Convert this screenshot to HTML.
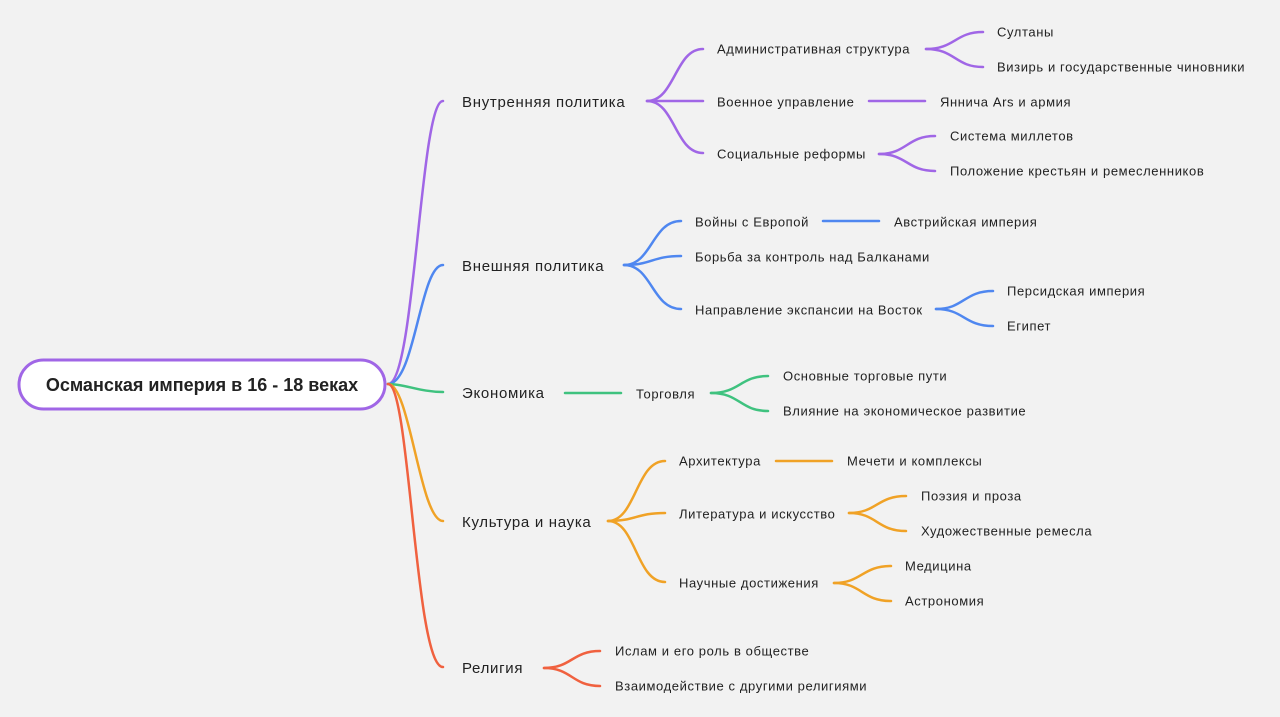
<!DOCTYPE html>
<html><head><meta charset="utf-8"><style>
html,body{margin:0;padding:0;background:#f2f2f2;}
svg{display:block}
text{font-family:"Liberation Sans","Noto Sans CJK SC",sans-serif;fill:#222;dominant-baseline:middle}
.l1{font-size:15px;letter-spacing:0.7px}
.l2{font-size:13px;letter-spacing:0.6px}
path{fill:none;stroke-width:2.5;stroke-linecap:round}
.p{stroke:#a066e6}.b{stroke:#4f87f0}.g{stroke:#3fc27f}.o{stroke:#f0a226}.r{stroke:#f0613f}
</style></head><body>
<svg width="1280" height="717" viewBox="0 0 1280 717">
<g transform="translate(0,1)">
<path class="p" d="M388,383 C415,383 420,100 443,100"/>
<path class="b" d="M388,383 C415,383 420,264 443,264"/>
<path class="g" d="M388,383 C405,383 420,391 443,391"/>
<path class="o" d="M388,383 C410,383 420,520 443,520"/>
<path class="r" d="M388,383 C410,383 415,666 443,666"/>
</g>
<rect x="19" y="360" width="366" height="49" rx="24.5" fill="#fff" stroke="#a066e6" stroke-width="3"/>
<text x="202" y="386" text-anchor="middle" style="font-size:18px;font-weight:600">Османская империя в 16 - 18 веках</text>

<!-- purple -->
<text class="l1" x="462" y="103">Внутренняя политика</text>
<path class="p" d="M647,101 C675,101 675,49 703,49"/>
<path class="p" d="M647,101 L703,101"/>
<path class="p" d="M647,101 C675,101 675,153 703,153"/>
<text class="l2" x="717" y="50">Административная структура</text>
<text class="l2" x="717" y="103">Военное управление</text>
<text class="l2" x="717" y="155">Социальные реформы</text>
<path class="p" d="M926,49 C955,49 955,32 983,32"/>
<path class="p" d="M926,49 C955,49 955,67 983,67"/>
<text class="l2" x="997" y="33">Султаны</text>
<text class="l2" x="997" y="68">Визирь и государственные чиновники</text>
<path class="p" d="M869,101 L925,101"/>
<text class="l2" x="940" y="103">Яннича Ars и армия</text>
<path class="p" d="M879,154 C907,154 907,136 935,136"/>
<path class="p" d="M879,154 C907,154 907,171 935,171"/>
<text class="l2" x="950" y="137">Система миллетов</text>
<text class="l2" x="950" y="172">Положение крестьян и ремесленников</text>

<!-- blue -->
<text class="l1" x="462" y="267">Внешняя политика</text>
<path class="b" d="M624,265 C652,265 652,221 681,221"/>
<path class="b" d="M624,265 C652,265 652,256 681,256"/>
<path class="b" d="M624,265 C652,265 652,309 681,309"/>
<text class="l2" x="695" y="223">Войны с Европой</text>
<text class="l2" x="695" y="258">Борьба за контроль над Балканами</text>
<text class="l2" x="695" y="311">Направление экспансии на Восток</text>
<path class="b" d="M823,221 L879,221"/>
<text class="l2" x="894" y="223">Австрийская империя</text>
<path class="b" d="M936,309 C964,309 964,291 993,291"/>
<path class="b" d="M936,309 C964,309 964,326 993,326"/>
<text class="l2" x="1007" y="292">Персидская империя</text>
<text class="l2" x="1007" y="327">Египет</text>

<!-- green -->
<text class="l1" x="462" y="394">Экономика</text>
<path class="g" d="M565,393 L621,393"/>
<text class="l2" x="636" y="395">Торговля</text>
<path class="g" d="M711,393 C740,393 740,376 768,376"/>
<path class="g" d="M711,393 C740,393 740,411 768,411"/>
<text class="l2" x="783" y="377">Основные торговые пути</text>
<text class="l2" x="783" y="412">Влияние на экономическое развитие</text>

<!-- orange -->
<text class="l1" x="462" y="523">Культура и наука</text>
<path class="o" d="M608,521 C636,521 636,461 665,461"/>
<path class="o" d="M608,521 C636,521 636,513 665,513"/>
<path class="o" d="M608,521 C636,521 636,582 665,582"/>
<text class="l2" x="679" y="462">Архитектура</text>
<text class="l2" x="679" y="515">Литература и искусство</text>
<text class="l2" x="679" y="584">Научные достижения</text>
<path class="o" d="M776,461 L832,461"/>
<text class="l2" x="847" y="462">Мечети и комплексы</text>
<path class="o" d="M849,513 C877,513 877,496 906,496"/>
<path class="o" d="M849,513 C877,513 877,531 906,531"/>
<text class="l2" x="921" y="497">Поэзия и проза</text>
<text class="l2" x="921" y="532">Художественные ремесла</text>
<path class="o" d="M834,583 C862,583 862,566 891,566"/>
<path class="o" d="M834,583 C862,583 862,601 891,601"/>
<text class="l2" x="905" y="567">Медицина</text>
<text class="l2" x="905" y="602">Астрономия</text>

<!-- red -->
<text class="l1" x="462" y="669">Религия</text>
<path class="r" d="M544,668 C572,668 572,651 600,651"/>
<path class="r" d="M544,668 C572,668 572,686 600,686"/>
<text class="l2" x="615" y="652">Ислам и его роль в обществе</text>
<text class="l2" x="615" y="687">Взаимодействие с другими религиями</text>
</svg>
</body></html>
